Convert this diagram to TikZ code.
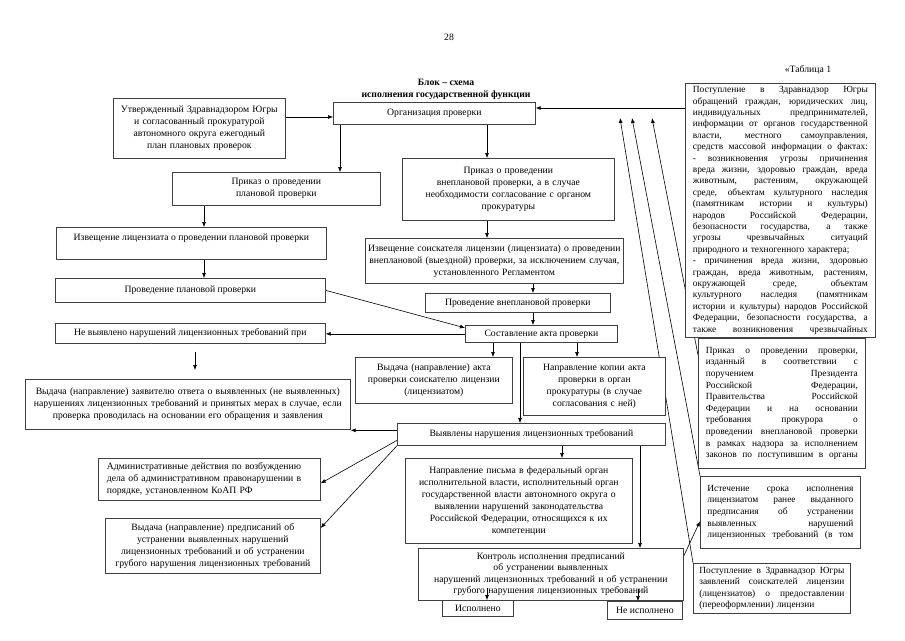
\documentclass[tikz,border=0pt]{standalone}
\usepackage{fontspec}
\setmainfont{Liberation Serif}
\usetikzlibrary{arrows.meta,calc}
\pgfdeclarelayer{bg}
\pgfsetlayers{bg,main}
\newcommand\jw{175pt}
\newcommand\jl[1]{\makebox[\jw][s]{\spaceskip=0.25em plus 1fil minus 0.05em\relax #1}}
\begin{document}
\begin{tikzpicture}[x=1pt,y=-1pt,
  bx/.style={draw=black!75, line width=0.7pt, fill=white, inner sep=0pt, anchor=north west, align=center, font=\fontsize{9.7}{12}\selectfont},
  rbx/.style={bx, align=left, font=\fontsize{9.4}{11.6}\selectfont},
  arr/.style={-{Latex[length=5pt,width=4pt]}, line width=0.6pt},
  lbl/.style={font=\fontsize{9.7}{12}\selectfont, inner sep=0pt}
]
\useasboundingbox (0,0) rectangle (905,640);

\node[lbl] (pg) at (449,37) {28};
\node[lbl, font=\bfseries\fontsize{9.7}{12}\selectfont, align=center] (title) at (446,89) {Блок – схема\\исполнения государственной функции};
\node[lbl] (tab) at (808,70) {«Таблица 1};

\node[bx, minimum width=172pt, minimum height=60pt, text width=165pt] (A) at (113,98) {Утвержденный Здравнадзором Югры\\и согласованный прокуратурой\\автономного округа ежегодный\\план плановых проверок};
\node[bx, minimum width=202pt, minimum height=22pt] (Org) at (333,102) {Организация проверки};
\node[bx, minimum width=208pt, minimum height=33pt, text width=200pt] (B) at (172,172) {Приказ о проведении\\плановой проверки};
\node[bx, minimum width=212pt, minimum height=62pt, text width=205pt] (C) at (402,158) {Приказ о проведении\\внеплановой проверки, а в случае\\необходимости согласование с органом\\прокуратуры};
\node[bx, minimum width=270pt, minimum height=32pt, text height=13pt, text depth=19pt] (Q) at (56,227) {Извещение лицензиата о проведении плановой проверки};
\node[bx, minimum width=258pt, minimum height=45pt, text width=256pt] (D) at (365,238) {Извещение соискателя лицензии (лицензиата) о проведении\\внеплановой (выездной) проверки, за исключением случая,\\установленного Регламентом};
\node[bx, minimum width=270pt, minimum height=24pt] (S) at (55,278) {Проведение плановой проверки};
\node[bx, minimum width=185pt, minimum height=19pt] (E) at (425,293) {Проведение внеплановой проверки};
\node[bx, minimum width=152pt, minimum height=17pt] (F) at (465,325) {Составление акта проверки};
\node[bx, minimum width=270pt, minimum height=20pt] (NV) at (55,323) {Не выявлено нарушений лицензионных требований при};
\node[bx, minimum width=157pt, minimum height=46pt, text width=150pt] (I) at (355,357) {Выдача (направление) акта\\проверки соискателю лицензии\\(лицензиатом)};
\node[bx, minimum width=142pt, minimum height=58pt, text width=136pt] (J) at (523,357) {Направление копии акта\\проверки в орган\\прокуратуры (в случае\\согласования с ней)};
\node[bx, minimum width=325pt, minimum height=50pt, text width=318pt] (G) at (25,379) {Выдача (направление) заявителю ответа о выявленных (не выявленных)\\нарушениях лицензионных требований и принятых мерах в случае, если\\проверка проводилась на основании его обращения и заявления};
\node[bx, minimum width=268pt, minimum height=22pt] (H) at (397,423) {Выявлены нарушения лицензионных требований};
\node[bx, align=left, minimum width=222pt, minimum height=42pt, text width=205pt] (O) at (98,458) {Административные действия по возбуждению\\дела об административном правонарушении в\\порядке, установленном КоАП РФ};
\node[bx, minimum width=227pt, minimum height=85pt, text width=220pt] (K) at (405,458) {Направление письма в федеральный орган\\исполнительной власти, исполнительный орган\\государственной власти автономного округа о\\выявлении нарушений законодательства\\Российской Федерации, относящихся к их\\компетенции};
\node[bx, minimum width=215pt, minimum height=55pt, text width=210pt] (P) at (105,518) {Выдача (направление) предписаний об\\устранении выявленных нарушений\\лицензионных требований и об устранении\\грубого нарушения лицензионных требований};
\node[bx, minimum width=265pt, minimum height=52pt, text width=258pt, font=\fontsize{9.7}{11.5}\selectfont] (L) at (418,548) {Контроль исполнения предписаний\\об устранении выявленных\\нарушений лицензионных требований и об устранении\\грубого нарушения лицензионных требований};
\node[bx, minimum width=71pt, minimum height=16pt] (M) at (442,600) {Исполнено};
\node[bx, minimum width=75pt, minimum height=18pt] (N) at (607,601) {Не исполнено};

\node[rbx, minimum width=190pt, minimum height=254pt, text width=175pt, font=\fontsize{9.4}{11.4}\selectfont] (R1) at (685,83) {\renewcommand\jw{175pt}%
\jl{Поступление в Здравнадзор Югры}\\
\jl{обращений граждан, юридических лиц,}\\
\jl{индивидуальных предпринимателей,}\\
\jl{информации от органов государственной}\\
\jl{власти, местного самоуправления,}\\
\jl{средств массовой информации о фактах:}\\
\jl{- возникновения угрозы причинения}\\
\jl{вреда жизни, здоровью граждан, вреда}\\
\jl{животным, растениям, окружающей}\\
\jl{среде, объектам культурного наследия}\\
\jl{(памятникам истории и культуры)}\\
\jl{народов Российской Федерации,}\\
\jl{безопасности государства, а также}\\
\jl{угрозы чрезвычайных ситуаций}\\
природного и техногенного характера;\\
\jl{- причинения вреда жизни, здоровью}\\
\jl{граждан, вреда животным, растениям,}\\
\jl{окружающей среде, объектам}\\
\jl{культурного наследия (памятникам}\\
\jl{истории и культуры) народов Российской}\\
\jl{Федерации, безопасности государства, а}\\
\jl{также возникновения чрезвычайных}};
\node[rbx, minimum width=167pt, minimum height=130pt, text width=152pt] (R2) at (698,338) {\renewcommand\jw{152pt}%
\jl{Приказ о проведении проверки,}\\
\jl{изданный в соответствии с}\\
\jl{поручением Президента}\\
\jl{Российской Федерации,}\\
\jl{Правительства Российской}\\
\jl{Федерации и на основании}\\
\jl{требования прокурора о}\\
\jl{проведении внеплановой проверки}\\
\jl{в рамках надзора за исполнением}\\
\jl{законов по поступившим в органы}};
\node[rbx, minimum width=160pt, minimum height=72pt, text width=146pt] (R3) at (700,476) {\renewcommand\jw{146pt}%
\jl{Истечение срока исполнения}\\
\jl{лицензиатом ранее выданного}\\
\jl{предписания об устранении}\\
\jl{выявленных нарушений}\\
\jl{лицензионных требований (в том}};
\node[rbx, minimum width=157pt, minimum height=50pt, text width=145pt] (R4) at (693,563) {\renewcommand\jw{145pt}%
\jl{Поступление в Здравнадзор Югры}\\
\jl{заявлений соискателей лицензии}\\
\jl{(лицензиатов) о предоставлении}\\
(переоформлении) лицензии};

\coordinate (t1) at (620,118);
\coordinate (t2) at (632,118);
\coordinate (t3) at (652,118);
\coordinate (s1) at (195,352);
\coordinate (s2) at (195,370);

\begin{pgfonlayer}{bg}
\fill[white] (0,0) rectangle (905,640);
\draw[arr] ($(A.north east)+(0,19)$) coordinate (a1) -- (a1 -| Org.west);
\draw[arr] ($(Org.south west)+(7,0)$) coordinate (c1) -- (c1 |- B.north);
\draw[arr] ($(Org.south west)+(154,0)$) coordinate (c2) -- (c2 |- C.north);
\draw[arr] ($(B.south west)+(32,0)$) coordinate (c3) -- (c3 |- Q.north);
\draw[arr] (c3 |- Q.south) -- (c3 |- S.north);
\draw[arr] (c2 |- C.south) -- (c2 |- D.north);
\draw[arr] ($(D.south west)+(168,0)$) coordinate (c4) -- (c4 |- E.north);
\draw[arr] (c4 |- E.south) -- (c4 |- F.north);
\draw[arr] (S.east) -- ($(F.west)+(0,-6)$);
\draw[arr] (F.west) -- (F.west -| NV.east);
\draw[arr] (s1) -- (s2);
\draw[arr] ($(F.south west)+(28,0)$) coordinate (c5) -- (c5 |- I.north);
\draw[arr] ($(F.south west)+(55,0)$) coordinate (c6) -- (c6 |- H.north);
\draw[arr] ($(F.south west)+(112,0)$) coordinate (c7) -- (c7 |- J.north);
\draw[arr] ($(H.west)+(0,-4)$) coordinate (c8) -- (c8 -| G.east);
\draw[arr] ($(H.west)+(0,6)$) -- ($(O.east)+(0,4)$);
\draw[arr] (H.south west) -- ($(P.north east)+(0,10)$);
\draw[arr] ($(H.south west)+(165,0)$) coordinate (c9) -- (c9 |- K.north);
\draw[arr] ($(H.south west)+(243,0)$) coordinate (c10) -- (c10 |- L.north);
\draw[arr] ($(L.north east)+(0,8)$) -- ($(R3.west)+(0,9)$);
\draw[arr] ($(R1.north west)+(0,25)$) coordinate (c13) -- (c13 -| Org.east);
\draw[arr] ($(R2.north west)+(0,17)$) -- (t3);
\draw[arr] (R3.north west) -- (t2);
\draw[arr] (R4.north west) -- (t1);
\end{pgfonlayer}
\draw[arr] ($(M.north west)+(45,-12)$) coordinate (c11) -- (c11 |- M.north);
\draw[arr] ($(N.north west)+(31,-12)$) coordinate (c12) -- (c12 |- N.north);
\end{tikzpicture}
\end{document}
